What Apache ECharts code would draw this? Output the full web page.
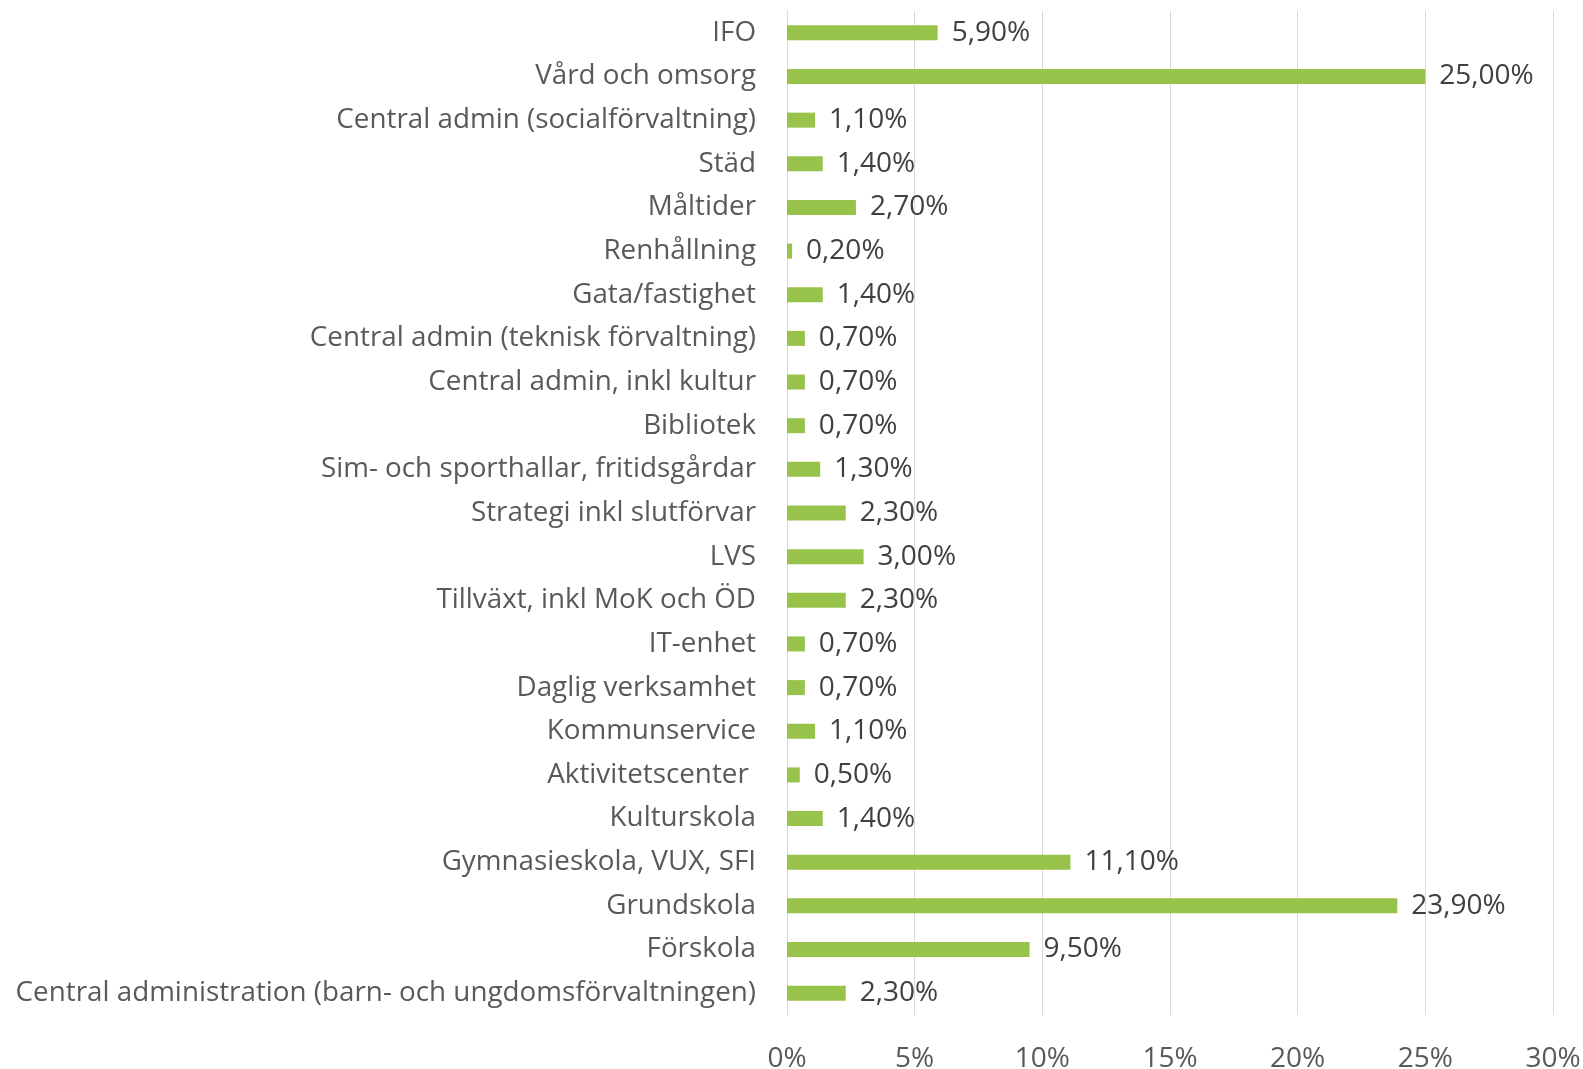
<!DOCTYPE html>
<html><head><meta charset="utf-8">
<script src="https://cdn.jsdelivr.net/npm/echarts@6/dist/echarts.min.js"></script>
<style>html,body{margin:0;padding:0;background:#fff}#c{width:1583px;height:1069px}</style>
</head><body><div id="c"></div>
<script>
const categories = ["IFO","Vård och omsorg","Central admin (socialförvaltning)","Städ","Måltider","Renhållning","Gata/fastighet","Central admin (teknisk förvaltning)","Central admin, inkl kultur","Bibliotek","Sim- och sporthallar, fritidsgårdar","Strategi inkl slutförvar","LVS","Tillväxt, inkl MoK och ÖD","IT-enhet","Daglig verksamhet","Kommunservice","Aktivitetscenter ","Kulturskola","Gymnasieskola, VUX, SFI","Grundskola","Förskola","Central administration (barn- och ungdomsförvaltningen)"];
const values = [5.9,25.0,1.1,1.4,2.7,0.2,1.4,0.7,0.7,0.7,1.3,2.3,3.0,2.3,0.7,0.7,1.1,0.5,1.4,11.1,23.9,9.5,2.3];
const xTicks = [0,5,10,15,20,25,30];
const chart = echarts.init(document.getElementById('c'));
chart.setOption({
  animation:false,
  grid:{left:787,right:30,top:11,bottom:54,containLabel:false,outerBoundsMode:'none'},
  xAxis:{type:'value',min:xTicks[0],max:xTicks[xTicks.length-1],interval:5,
    axisLine:{show:false},axisTick:{show:false},
    splitLine:{lineStyle:{color:'#d9d9d9',width:1}},
    axisLabel:{formatter:v=>v+'%',color:'#595959',fontFamily:'Open Sans',fontSize:28,margin:30}},
  yAxis:{type:'category',data:categories,inverse:true,
    axisLine:{show:true,lineStyle:{color:'#d9d9d9'}},axisTick:{show:false},
    axisLabel:{color:'#595959',fontFamily:'Open Sans',fontSize:27.8,margin:31}},
  series:[{type:'bar',data:values,barWidth:15,
    itemStyle:{color:'#97c34a'},
    label:{show:true,position:'right',distance:14,color:'#404040',fontFamily:'Open Sans',fontSize:28,
      formatter:p=>p.value.toFixed(2).replace('.',',')+'%'}}]
});
</script></body></html>
